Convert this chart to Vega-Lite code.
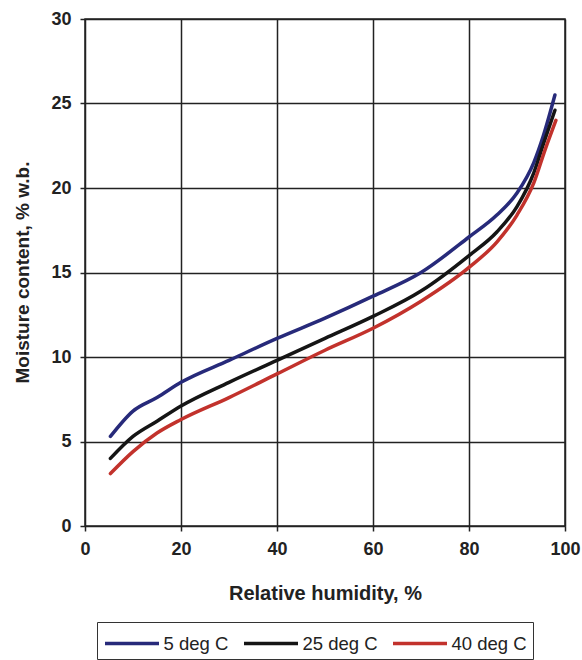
{
  "$schema": "https://vega.github.io/schema/vega-lite/v6.json",
  "autosize": "none",
  "width": 480,
  "height": 507,
  "padding": {"left": 85, "top": 19, "right": 17, "bottom": 134},
  "background": "white",
  "config": {
    "font": "Liberation Sans",
    "view": {"stroke": "#222222", "strokeWidth": 1.5}
  },
  "data": {
    "values": [
      {"series": "5 deg C", "rh": 5.3, "mc": 5.3},
      {"series": "5 deg C", "rh": 10, "mc": 6.8},
      {"series": "5 deg C", "rh": 15, "mc": 7.6},
      {"series": "5 deg C", "rh": 20, "mc": 8.5},
      {"series": "5 deg C", "rh": 30, "mc": 9.8},
      {"series": "5 deg C", "rh": 40, "mc": 11.1},
      {"series": "5 deg C", "rh": 50, "mc": 12.3},
      {"series": "5 deg C", "rh": 60, "mc": 13.6},
      {"series": "5 deg C", "rh": 70, "mc": 15.0},
      {"series": "5 deg C", "rh": 80, "mc": 17.1},
      {"series": "5 deg C", "rh": 85.8, "mc": 18.4},
      {"series": "5 deg C", "rh": 90, "mc": 19.7},
      {"series": "5 deg C", "rh": 93.5, "mc": 21.5},
      {"series": "5 deg C", "rh": 95.5, "mc": 23.1},
      {"series": "5 deg C", "rh": 97.9, "mc": 25.5},
      {"series": "25 deg C", "rh": 5.3, "mc": 4.0},
      {"series": "25 deg C", "rh": 10, "mc": 5.3},
      {"series": "25 deg C", "rh": 15, "mc": 6.2},
      {"series": "25 deg C", "rh": 20, "mc": 7.1},
      {"series": "25 deg C", "rh": 30, "mc": 8.5},
      {"series": "25 deg C", "rh": 40, "mc": 9.8},
      {"series": "25 deg C", "rh": 50, "mc": 11.1},
      {"series": "25 deg C", "rh": 60, "mc": 12.4},
      {"series": "25 deg C", "rh": 70, "mc": 13.9},
      {"series": "25 deg C", "rh": 80, "mc": 16.0},
      {"series": "25 deg C", "rh": 85.8, "mc": 17.4},
      {"series": "25 deg C", "rh": 90, "mc": 18.9},
      {"series": "25 deg C", "rh": 93.5, "mc": 20.9},
      {"series": "25 deg C", "rh": 95.5, "mc": 22.6},
      {"series": "25 deg C", "rh": 97.9, "mc": 24.6},
      {"series": "40 deg C", "rh": 5.3, "mc": 3.1},
      {"series": "40 deg C", "rh": 10, "mc": 4.4},
      {"series": "40 deg C", "rh": 15, "mc": 5.5},
      {"series": "40 deg C", "rh": 20, "mc": 6.3},
      {"series": "40 deg C", "rh": 30, "mc": 7.6},
      {"series": "40 deg C", "rh": 40, "mc": 9.0},
      {"series": "40 deg C", "rh": 50, "mc": 10.4},
      {"series": "40 deg C", "rh": 60, "mc": 11.7},
      {"series": "40 deg C", "rh": 70, "mc": 13.3},
      {"series": "40 deg C", "rh": 80, "mc": 15.3},
      {"series": "40 deg C", "rh": 85.8, "mc": 16.8},
      {"series": "40 deg C", "rh": 90, "mc": 18.4},
      {"series": "40 deg C", "rh": 93.5, "mc": 20.3},
      {"series": "40 deg C", "rh": 95.9, "mc": 22.3},
      {"series": "40 deg C", "rh": 98.1, "mc": 24.0}
    ]
  },
  "mark": {"type": "line", "interpolate": "monotone", "strokeWidth": 3.5, "strokeCap": "round"},
  "encoding": {
    "x": {
      "field": "rh",
      "type": "quantitative",
      "scale": {"domain": [0, 100], "nice": false},
      "axis": {
        "title": "Relative humidity, %",
        "values": [0, 20, 40, 60, 80, 100],
        "grid": true,
        "gridColor": "#222222",
        "gridWidth": 1.5,
        "gridOpacity": 1,
        "domain": false,
        "tickColor": "#222222",
        "tickWidth": 1.5,
        "tickSize": 5,
        "labelPadding": 9,
        "labelFont": "Liberation Sans",
        "labelFontSize": 18,
        "labelFontWeight": "bold",
        "labelColor": "#222222",
        "labelFlush": false,
        "titleFont": "Liberation Sans",
        "titleFontSize": 20,
        "titleFontWeight": "bold",
        "titleColor": "#222222",
        "titleBaseline": "middle",
        "titleY": 67
      }
    },
    "y": {
      "field": "mc",
      "type": "quantitative",
      "scale": {"domain": [0, 30], "nice": false},
      "axis": {
        "title": "Moisture content, % w.b.",
        "values": [0, 5, 10, 15, 20, 25, 30],
        "grid": true,
        "gridColor": "#222222",
        "gridWidth": 1.5,
        "gridOpacity": 1,
        "domain": false,
        "tickColor": "#222222",
        "tickWidth": 1.5,
        "tickSize": 5,
        "labelPadding": 9,
        "labelFont": "Liberation Sans",
        "labelFontSize": 18,
        "labelFontWeight": "bold",
        "labelColor": "#222222",
        "labelFlush": false,
        "titleFont": "Liberation Sans",
        "titleFontSize": 19,
        "titleFontWeight": "bold",
        "titleColor": "#222222",
        "titleBaseline": "middle",
        "titleX": -63,
        "titleY": 253
      }
    },
    "color": {
      "field": "series",
      "type": "nominal",
      "sort": ["5 deg C", "25 deg C", "40 deg C"],
      "scale": {
        "domain": ["5 deg C", "25 deg C", "40 deg C"],
        "range": ["#272a7a", "#151515", "#c2322c"]
      },
      "legend": {
        "title": null,
        "orient": "none",
        "legendX": 12,
        "legendY": 603,
        "direction": "horizontal",
        "strokeColor": "#333333",
        "padding": 6,
        "symbolType": "M-2,0H2",
        "symbolSize": 729,
        "symbolOffset": 13.5,
        "symbolStrokeWidth": 3.5,
        "labelFont": "Liberation Sans",
        "labelFontSize": 18.5,
        "labelColor": "#222222",
        "labelOffset": 16,
        "columnPadding": 8
      }
    }
  }
}
